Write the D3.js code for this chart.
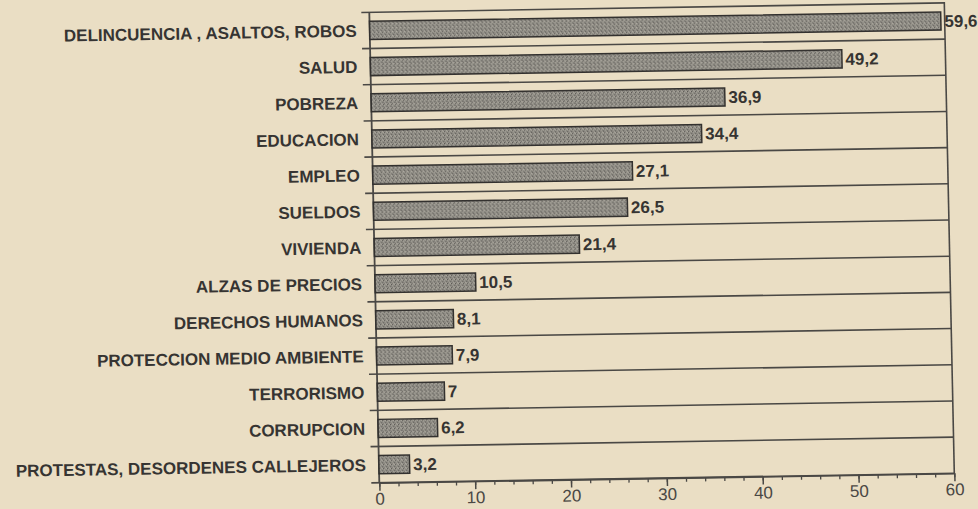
<!DOCTYPE html>
<html>
<head>
<meta charset="utf-8">
<script src="https://cdn.jsdelivr.net/npm/d3@7"></script>
<style>
  html, body { margin: 0; padding: 0; background: #eadec4; }
  svg { display: block; }
</style>
</head>
<body>
<svg id="chart" width="978" height="509"></svg>
<script>
// ---- data ----
const categories = [
  "DELINCUENCIA , ASALTOS, ROBOS",
  "SALUD",
  "POBREZA",
  "EDUCACION",
  "EMPLEO",
  "SUELDOS",
  "VIVIENDA",
  "ALZAS DE PRECIOS",
  "DERECHOS HUMANOS",
  "PROTECCION MEDIO AMBIENTE",
  "TERRORISMO",
  "CORRUPCION",
  "PROTESTAS, DESORDENES CALLEJEROS"
];
const values = [59.6, 49.2, 36.9, 34.4, 27.1, 26.5, 21.4, 10.5, 8.1, 7.9, 7, 6.2, 3.2];
const valueLabels = ["59,6", "49,2", "36,9", "34,4", "27,1", "26,5", "21,4", "10,5", "8,1", "7,9", "7", "6,2", "3,2"];
const xTicks = [0, 10, 20, 30, 40, 50, 60];
const xTickLabels = ["0", "10", "20", "30", "40", "50", "60"];
const xMinorTicks = [0, 2, 4, 6, 8, 10, 12, 14, 16, 18, 20, 22, 24, 26, 28, 30, 32, 34, 36, 38, 40, 42, 44, 46, 48, 50, 52, 54, 56, 58, 60];

// ---- layout ----
const W = 575, H = 470.4;
const ink = "#363432";
const lineInk = "#4a4845";
const font = "'Liberation Sans', Arial, Helvetica, sans-serif";

const svg = d3.select("#chart");
svg.append("rect").attr("width", 978).attr("height", 509).attr("fill", "#eadec4");

// stipple pattern for bars
const defs = svg.append("defs");
const pat = defs.append("pattern").attr("id", "stipple")
  .attr("width", 4).attr("height", 4).attr("patternUnits", "userSpaceOnUse");
pat.append("rect").attr("width", 4).attr("height", 4).attr("fill", "#96938b");
[[0,0,"#5a5854"],[2,1,"#6c6a65"],[1,3,"#64625d"],[3,2,"#55534f"],[1,1,"#b4b0a6"],[3,0,"#aba79d"],[0,2,"#7d7a74"],[2,3,"#b8b4aa"]]
  .forEach(([px, py, c]) => pat.append("rect").attr("x", px).attr("y", py).attr("width", 1).attr("height", 1).attr("fill", c));

// whole chart slightly skewed like the scanned page
const g = svg.append("g").attr("transform", "matrix(1,-0.01635,0.02126,1,369.3,12.3)");

const x = d3.scaleLinear().domain([0, 60]).range([0, W]);
const y = d3.scaleBand().domain(categories).range([0, H]).paddingInner(0.5).paddingOuter(0.25);

// horizontal grid lines at band boundaries (extend left as ticks)
const bounds = categories.map(c => y(c) + y.bandwidth() / 2 - y.step() / 2).concat([H]);
g.selectAll("line.grid").data(bounds).join("line")
  .attr("class", "grid")
  .attr("x1", -8).attr("x2", W)
  .attr("y1", d => d).attr("y2", d => d)
  .attr("stroke", lineInk).attr("stroke-width", 1.6);

// left axis and right frame line
g.append("line").attr("x1", 0).attr("x2", 0).attr("y1", 0).attr("y2", H)
  .attr("stroke", lineInk).attr("stroke-width", 1.8);
g.append("line").attr("x1", W).attr("x2", W).attr("y1", -1).attr("y2", H)
  .attr("stroke", lineInk).attr("stroke-width", 1.6);

// bars
g.selectAll("rect.bar").data(categories).join("rect")
  .attr("class", "bar")
  .attr("x", x(0))
  .attr("y", d => y(d))
  .attr("width", (d, i) => x(values[i]) - x(0))
  .attr("height", y.bandwidth())
  .attr("fill", "url(#stipple)")
  .attr("stroke", "#33312f").attr("stroke-width", 1.5);

// value labels
g.selectAll("text.val").data(categories).join("text")
  .attr("class", "val")
  .attr("x", (d, i) => x(values[i]) + 3.5)
  .attr("y", d => y(d) + y.bandwidth() / 2)
  .attr("dy", "0.36em")
  .attr("font-family", font).attr("font-size", 17).attr("font-weight", "bold")
  .attr("fill", ink)
  .text((d, i) => valueLabels[i]);

// category axis labels
const yAxis = g.append("g")
  .call(d3.axisLeft(y).tickSize(0).tickPadding(13));
yAxis.select(".domain").remove();
yAxis.selectAll("text")
  .attr("dy", "0.36em")
  .attr("font-family", font).attr("font-size", 17).attr("font-weight", "bold")
  .attr("fill", ink);

// x axis: minor ticks
const xMinor = g.append("g").attr("transform", `translate(0,${H})`)
  .call(d3.axisBottom(x).tickValues(xMinorTicks).tickSize(4).tickFormat(""));
xMinor.select(".domain").remove();
xMinor.selectAll("line").attr("stroke", lineInk).attr("stroke-width", 1.3);

// x axis: major ticks with labels
const xAxis = g.append("g").attr("transform", `translate(0,${H})`)
  .call(d3.axisBottom(x).tickValues(xTicks).tickFormat((d, i) => xTickLabels[i])
        .tickSize(8).tickSizeOuter(0).tickPadding(2));
xAxis.select(".domain").attr("stroke", lineInk).attr("stroke-width", 1.6);
xAxis.selectAll("line").attr("stroke", lineInk).attr("stroke-width", 1.5);
xAxis.selectAll("text")
  .attr("font-family", font).attr("font-size", 17)
  .attr("fill", "#4a4844");
</script>
</body>
</html>
